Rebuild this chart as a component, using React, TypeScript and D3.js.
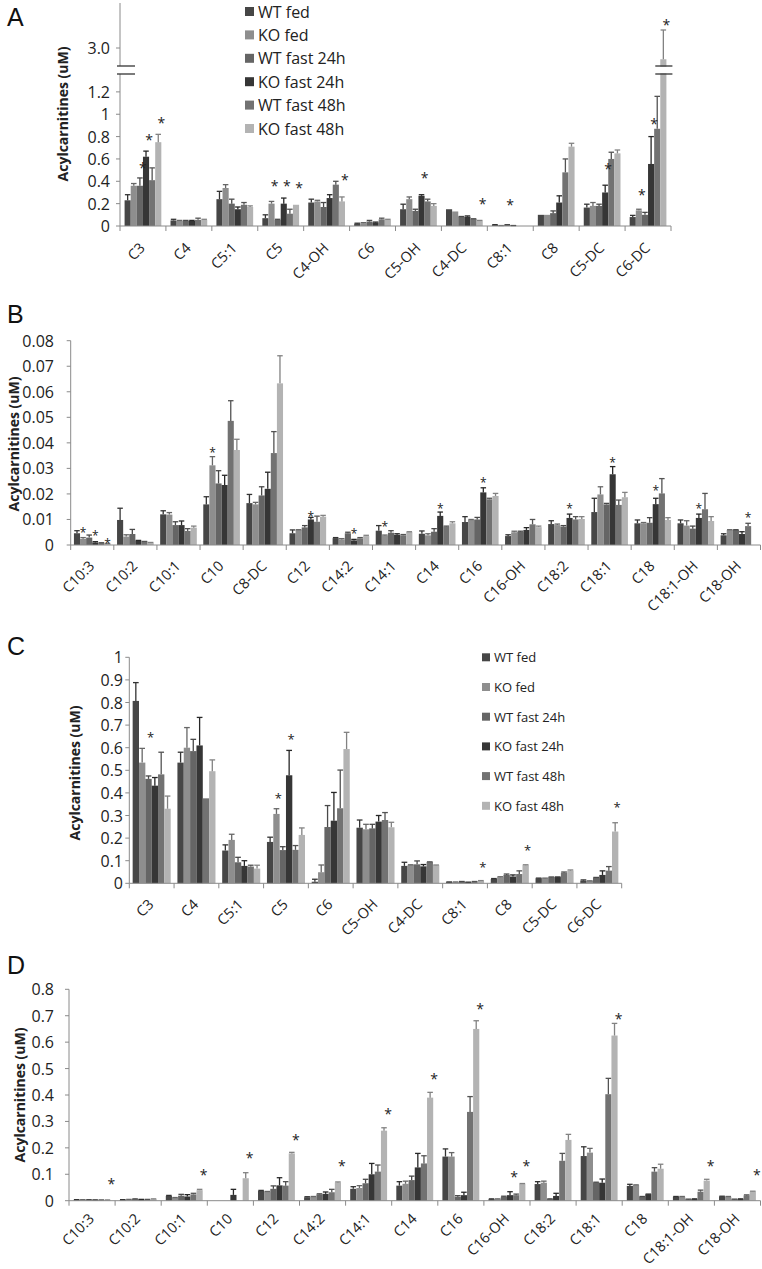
import React from "react";
import * as d3 from "d3";

const SERIES = ["WT fed", "KO fed", "WT fast 24h", "KO fast 24h", "WT fast 48h", "KO fast 48h"];
const COLORS = ["#464646", "#8e8e8e", "#656565", "#363636", "#727272", "#b3b3b3"];

// ---------------- Panel A ----------------
const aCategories = ["C3", "C4", "C5:1", "C5", "C4-OH", "C6", "C5-OH", "C4-DC", "C8:1", "C8", "C5-DC", "C6-DC"];
const aMean = [
  [0.23, 0.36, 0.36, 0.62, 0.41, 0.75],
  [0.05, 0.045, 0.045, 0.045, 0.055, 0.055],
  [0.24, 0.34, 0.2, 0.15, 0.19, 0.17],
  [0.07, 0.2, 0.054, 0.2, 0.11, 0.19],
  [0.21, 0.22, 0.17, 0.25, 0.37, 0.22],
  [0.02, 0.025, 0.04, 0.03, 0.06, 0.055],
  [0.15, 0.24, 0.135, 0.27, 0.22, 0.18],
  [0.15, 0.13, 0.083, 0.083, 0.063, 0.048],
  [0.01, 0.003, 0.01, 0.003, 0, 0],
  [0.1, 0.1, 0.115, 0.21, 0.48, 0.71],
  [0.165, 0.18, 0.18, 0.3, 0.6, 0.65],
  [0.08, 0.14, 0.1, 0.555, 0.87, 2.9],
];
const aTop = [
  [0.28, 0.38, 0.43, 0.67, 0.52, 0.82],
  [0.06, 0.05, 0.05, 0.05, 0.07, 0.06],
  [0.31, 0.37, 0.24, 0.17, 0.21, 0.18],
  [0.1, 0.22, 0.06, 0.25, 0.15, 0.19],
  [0.24, 0.23, 0.21, 0.28, 0.4, 0.26],
  [0.025, 0.03, 0.05, 0.035, 0.07, 0.06],
  [0.195, 0.26, 0.15, 0.28, 0.24, 0.2],
  [0.15, 0.13, 0.085, 0.09, 0.065, 0.05],
  [0.012, 0.004, 0.012, 0.004, 0, 0],
  [0.1, 0.1, 0.135, 0.27, 0.6, 0.74],
  [0.195, 0.21, 0.195, 0.365, 0.66, 0.68],
  [0.095, 0.15, 0.122, 0.8, 1.16, 3.16],
];
// [category, series, level]
const aStars = [
  [0, 2, 0.54], [0, 3, 0.79], [0, 5, 0.95], [3, 1, 0.38], [3, 3, 0.38], [3, 5, 0.36],
  [4, 5, 0.44], [6, 3, 0.45], [7, 5, 0.22], [8, 2, 0.21], [10, 3, 0.53],
  [11, 1, 0.3], [11, 3, 0.94], [11, 5, 3.23],
];
const aTicks = [0, 0.2, 0.4, 0.6, 0.8, 1, 1.2, 3.0];
const aTickLabels = ["0", "0.2", "0.4", "0.6", "0.8", "1", "1.2", "3.0"];

// ---------------- Panel B ----------------
const bCategories = ["C10:3", "C10:2", "C10:1", "C10", "C8-DC", "C12", "C14:2", "C14:1", "C14", "C16", "C16-OH", "C18:2", "C18:1", "C18", "C18:1-OH", "C18-OH"];
const bMean = [
  [0.0046, 0.0024, 0.0029, 0.001, 0.0008, 0.0005],
  [0.0098, 0.0033, 0.0043, 0.0017, 0.0013, 0.0009],
  [0.012, 0.0119, 0.0078, 0.0078, 0.0055, 0.0068],
  [0.0159, 0.0312, 0.0241, 0.0235, 0.0486, 0.0372],
  [0.0164, 0.0159, 0.0194, 0.022, 0.036, 0.0633],
  [0.0046, 0.0059, 0.0069, 0.01, 0.0091, 0.0111],
  [0.0027, 0.0022, 0.0046, 0.0018, 0.0026, 0.0035],
  [0.0056, 0.0037, 0.0048, 0.004, 0.0038, 0.0051],
  [0.0044, 0.0038, 0.0052, 0.0114, 0.0072, 0.0085],
  [0.009, 0.0098, 0.01, 0.0206, 0.0179, 0.0192],
  [0.0035, 0.005, 0.0051, 0.0059, 0.0081, 0.007],
  [0.0082, 0.0078, 0.0072, 0.0106, 0.01, 0.0102],
  [0.0129, 0.0198, 0.0159, 0.0277, 0.0157, 0.0187],
  [0.0085, 0.0085, 0.0087, 0.016, 0.0202, 0.0098],
  [0.0085, 0.0076, 0.0064, 0.0106, 0.014, 0.0094],
  [0.0038, 0.0059, 0.0059, 0.0043, 0.0074, 0],
];
const bTop = [
  [0.0056, 0.0029, 0.0039, 0.0013, 0.0009, 0.0006],
  [0.0144, 0.004, 0.0061, 0.0018, 0.0014, 0.001],
  [0.0134, 0.0127, 0.0091, 0.0094, 0.0064, 0.0074],
  [0.0189, 0.0346, 0.0291, 0.0273, 0.0565, 0.0414],
  [0.0198, 0.0167, 0.0228, 0.0285, 0.0444, 0.0741],
  [0.0059, 0.006, 0.0076, 0.0108, 0.0113, 0.0116],
  [0.0029, 0.0025, 0.005, 0.0022, 0.0029, 0.0038],
  [0.0076, 0.0039, 0.0056, 0.0044, 0.0041, 0.0052],
  [0.0055, 0.0044, 0.0064, 0.0129, 0.0074, 0.0091],
  [0.0111, 0.01, 0.0108, 0.0224, 0.0183, 0.0202],
  [0.004, 0.0054, 0.0054, 0.0068, 0.01, 0.0074],
  [0.0095, 0.0082, 0.0076, 0.0121, 0.0111, 0.0111],
  [0.0183, 0.0228, 0.0163, 0.0307, 0.0176, 0.0206],
  [0.0098, 0.0088, 0.0107, 0.0183, 0.026, 0.0107],
  [0.0098, 0.0095, 0.0074, 0.0121, 0.0202, 0.0111],
  [0.0044, 0.006, 0.006, 0.0052, 0.0085, 0],
];
const bStars = [
  [0, 1, 0.0059], [0, 3, 0.0046], [0, 5, 0.0013], [3, 1, 0.0372], [5, 3, 0.0121], [6, 3, 0.0055],
  [7, 1, 0.0082], [8, 3, 0.015], [9, 3, 0.0254], [11, 3, 0.015], [12, 3, 0.0333], [13, 3, 0.0222],
  [14, 3, 0.015], [15, 4, 0.0117],
];
const bTicks = [0, 0.01, 0.02, 0.03, 0.04, 0.05, 0.06, 0.07, 0.08];
const bTickLabels = ["0", "0.01", "0.02", "0.03", "0.04", "0.05", "0.06", "0.07", "0.08"];

// ---------------- Panel C ----------------
const cCategories = ["C3", "C4", "C5:1", "C5", "C6", "C5-OH", "C4-DC", "C8:1", "C8", "C5-DC", "C6-DC"];
const cMean = [
  [0.807, 0.534, 0.462, 0.432, 0.482, 0.33],
  [0.534, 0.6, 0.585, 0.61, 0.376, 0.496],
  [0.145, 0.192, 0.093, 0.077, 0.074, 0.065],
  [0.183, 0.307, 0.147, 0.478, 0.148, 0.214],
  [0.007, 0.049, 0.249, 0.277, 0.332, 0.594],
  [0.246, 0.239, 0.243, 0.273, 0.28, 0.248],
  [0.077, 0.081, 0.084, 0.075, 0.094, 0.08],
  [0.005, 0.005, 0.007, 0.004, 0.007, 0.01],
  [0.019, 0.027, 0.037, 0.03, 0.041, 0.08],
  [0.022, 0.022, 0.027, 0.027, 0.047, 0.056],
  [0.012, 0.01, 0.025, 0.037, 0.056, 0.229],
];
const cTop = [
  [0.888, 0.597, 0.475, 0.468, 0.58, 0.386],
  [0.58, 0.689, 0.637, 0.734, 0.376, 0.546],
  [0.17, 0.217, 0.115, 0.1, 0.08, 0.08],
  [0.204, 0.33, 0.162, 0.588, 0.167, 0.245],
  [0.018, 0.081, 0.344, 0.402, 0.501, 0.668],
  [0.28, 0.261, 0.261, 0.3, 0.313, 0.27],
  [0.093, 0.082, 0.099, 0.083, 0.095, 0.081],
  [0.006, 0.006, 0.008, 0.005, 0.008, 0.012],
  [0.021, 0.029, 0.041, 0.037, 0.055, 0.082],
  [0.023, 0.023, 0.028, 0.028, 0.05, 0.059],
  [0.015, 0.011, 0.026, 0.055, 0.074, 0.268],
];
const cStars = [[0, 2, 0.659], [3, 1, 0.386], [3, 3, 0.649], [7, 5, 0.081], [8, 5, 0.158], [10, 5, 0.347]];
const cTicks = [0, 0.1, 0.2, 0.3, 0.4, 0.5, 0.6, 0.7, 0.8, 0.9, 1];
const cTickLabels = ["0", "0.1", "0.2", "0.3", "0.4", "0.5", "0.6", "0.7", "0.8", "0.9", "1"];

// ---------------- Panel D ----------------
const dCategories = ["C10:3", "C10:2", "C10:1", "C10", "C12", "C14:2", "C14:1", "C14", "C16", "C16-OH", "C18:2", "C18:1", "C18", "C18:1-OH", "C18-OH"];
const dMean = [
  [0.003, 0.003, 0.003, 0.002, 0.002, 0.002],
  [0.003, 0.004, 0.006, 0.004, 0.004, 0.006],
  [0.018, 0.011, 0.019, 0.016, 0.024, 0.04],
  [0, 0, 0, 0.022, 0, 0.085],
  [0.037, 0.033, 0.045, 0.058, 0.057, 0.179],
  [0.013, 0.015, 0.024, 0.026, 0.032, 0.069],
  [0.045, 0.048, 0.066, 0.1, 0.11, 0.265],
  [0.057, 0.064, 0.078, 0.126, 0.141, 0.39],
  [0.167, 0.167, 0.015, 0.021, 0.336, 0.65],
  [0.006, 0.006, 0.015, 0.021, 0.021, 0.064],
  [0.063, 0.068, 0.006, 0.018, 0.151, 0.23],
  [0.169, 0.182, 0.069, 0.068, 0.403, 0.625],
  [0.056, 0.059, 0.015, 0.024, 0.11, 0.121],
  [0.015, 0.015, 0.005, 0.006, 0.034, 0.076],
  [0.016, 0.015, 0.005, 0.006, 0.02, 0.035],
];
const dTop = [
  [0.004, 0.004, 0.004, 0.003, 0.003, 0.003],
  [0.004, 0.005, 0.007, 0.005, 0.005, 0.007],
  [0.02, 0.012, 0.024, 0.023, 0.028, 0.043],
  [0, 0, 0, 0.043, 0, 0.106],
  [0.039, 0.035, 0.056, 0.087, 0.072, 0.183],
  [0.015, 0.016, 0.026, 0.033, 0.043, 0.071],
  [0.053, 0.057, 0.081, 0.141, 0.135, 0.276],
  [0.072, 0.074, 0.093, 0.179, 0.17, 0.41],
  [0.196, 0.182, 0.019, 0.032, 0.394, 0.681],
  [0.007, 0.007, 0.017, 0.034, 0.025, 0.065],
  [0.072, 0.074, 0.007, 0.028, 0.179, 0.251],
  [0.204, 0.198, 0.07, 0.082, 0.463, 0.671],
  [0.062, 0.06, 0.016, 0.025, 0.125, 0.138],
  [0.016, 0.016, 0.006, 0.007, 0.04, 0.081],
  [0.017, 0.016, 0.006, 0.007, 0.022, 0.036],
];
const dStars = [
  [0, 5, 0.074], [2, 5, 0.106], [3, 5, 0.173], [4, 5, 0.241], [5, 5, 0.141], [6, 5, 0.338],
  [7, 5, 0.472], [8, 5, 0.734], [9, 3, 0.101], [9, 5, 0.141], [11, 5, 0.699], [13, 5, 0.141], [14, 5, 0.106],
];
const dTicks = [0, 0.1, 0.2, 0.3, 0.4, 0.5, 0.6, 0.7, 0.8];
const dTickLabels = ["0", "0.1", "0.2", "0.3", "0.4", "0.5", "0.6", "0.7", "0.8"];

const FONT = "'Open Sans', 'DejaVu Sans', sans-serif";
const AXIS = "#8a8a8a";

type PanelCfg = {
  letter: string;
  letterX: number;
  letterY: number;
  categories: string[];
  mean: number[][];
  top: number[][];
  stars: number[][];
  ticks: number[];
  tickLabels: string[];
  x0: number;
  x1: number;
  y: d3.ScaleLinear<number, number>;
  segments: number[][];
  labelRight: number;
  titleX: number;
  titleY: number;
  frac: number;
  starDx: number;
  starSize: number;
  catDy: number;
};

function Panel({ cfg }: { cfg: PanelCfg }) {
  const { categories, mean, top, y } = cfg;
  const xb = d3.scaleBand<string>().domain(categories).range([cfg.x0, cfg.x1]);
  const step = xb.step();
  const gw = step * cfg.frac;
  const off = (step - gw) / 2;
  const xi = d3.scaleBand<number>().domain(d3.range(SERIES.length)).range([0, gw]);
  const bw = xi.bandwidth();
  const y0 = y(0);
  const barX = (ci: number, si: number) => (xb(categories[ci]) as number) + off + (xi(si) as number);

  const bars: JSX.Element[] = [];
  const errs: JSX.Element[] = [];
  mean.forEach((row, ci) => {
    row.forEach((v, si) => {
      if (v <= 0) return;
      const x = barX(ci, si);
      bars.push(
        <rect key={`b${ci}-${si}`} x={x} y={y(v)} width={bw} height={y0 - y(v)} fill={COLORS[si]} />
      );
      const t = top[ci][si];
      if (t > v) {
        const cx = x + bw / 2;
        const ec = d3.color(COLORS[si])!.darker(0.9).formatHex();
        errs.push(
          <g key={`e${ci}-${si}`} stroke={ec} strokeWidth={1.3}>
            <line x1={cx} x2={cx} y1={y(v)} y2={y(t)} />
            <line x1={cx - bw * 0.45} x2={cx + bw * 0.45} y1={y(t)} y2={y(t)} />
          </g>
        );
      }
    });
  });

  const bounds = d3.range(categories.length + 1).map((i) => cfg.x0 + i * step);

  return (
    <g>
      <text x={cfg.letterX} y={cfg.letterY} fontFamily="'Liberation Sans', Arial, sans-serif" fontSize={25} fill="#111">
        {cfg.letter}
      </text>
      <text
        transform={`translate(${cfg.titleX},${cfg.titleY}) rotate(-90)`}
        textAnchor="middle"
        dominantBaseline="central"
        fontFamily={FONT}
        fontWeight="bold"
        fontSize={14}
        fill="#222"
      >
        Acylcarnitines (uM)
      </text>
      {cfg.segments.map((s, i) => (
        <line key={`ya${i}`} x1={cfg.x0} x2={cfg.x0} y1={y(s[0])} y2={y(s[1])} stroke={AXIS} strokeWidth={1} />
      ))}
      {cfg.ticks.map((t, i) => (
        <g key={`yt${i}`}>
          <line x1={cfg.x0 - 4} x2={cfg.x0} y1={y(t)} y2={y(t)} stroke={AXIS} />
          <text
            x={cfg.labelRight}
            y={y(t)}
            textAnchor="end"
            dominantBaseline="central"
            fontFamily={FONT}
            fontSize={16}
            fill="#222"
          >
            {cfg.tickLabels[i]}
          </text>
        </g>
      ))}
      {bars}
      {errs}
      <line x1={cfg.x0} x2={cfg.x1} y1={y0} y2={y0} stroke={AXIS} strokeWidth={1} />
      {bounds.map((bx, i) => (
        <line key={`xt${i}`} x1={bx} x2={bx} y1={y0} y2={y0 + 5} stroke={AXIS} />
      ))}
      {categories.map((c) => {
        const cx = (xb(c) as number) + step / 2;
        return (
          <text
            key={`xl${c}`}
            transform={`translate(${cx + 3},${y0 + cfg.catDy}) rotate(-45)`}
            textAnchor="end"
            fontFamily={FONT}
            fontSize={14.5}
            fill="#222"
          >
            {c}
          </text>
        );
      })}
      {cfg.stars.map(([ci, si, lv], i) => (
        <text
          key={`s${i}`}
          x={barX(ci, si) + bw / 2 + cfg.starDx}
          y={y(lv) + cfg.starSize * 0.55}
          textAnchor="middle"
          fontFamily={FONT}
          fontSize={cfg.starSize}
          fill="#222"
        >
          *
        </text>
      ))}
    </g>
  );
}

function Legend({ x, y, step, size, fontSize }: { x: number; y: number; step: number; size: number; fontSize: number }) {
  return (
    <g>
      {SERIES.map((s, i) => (
        <g key={s}>
          <rect x={x} y={y + i * step - size / 2} width={size} height={size} fill={COLORS[i]} />
          <text
            x={x + size + 4}
            y={y + i * step}
            dominantBaseline="central"
            fontFamily={FONT}
            fontSize={fontSize}
            fill="#222"
          >
            {s}
          </text>
        </g>
      ))}
    </g>
  );
}

export default function App() {
  const aY = d3.scaleLinear().domain([0, 1.36, 2.84, 3.4]).range([226, 74, 66, 3]);
  const bY = d3.scaleLinear().domain([0, 0.08]).range([545, 340.7]);
  const cY = d3.scaleLinear().domain([0, 1]).range([883.3, 657.3]);
  const dY = d3.scaleLinear().domain([0, 0.8]).range([1200.7, 989.3]);

  const panels: PanelCfg[] = [
    {
      letter: "A", letterX: 7, letterY: 26, categories: aCategories, mean: aMean, top: aTop, stars: aStars,
      ticks: aTicks, tickLabels: aTickLabels, x0: 120, x1: 671, y: aY, segments: [[0, 1.36], [2.84, 3.4]],
      labelRight: 110, titleX: 62.5, titleY: 114, frac: 0.8, starDx: 3, starSize: 14, catDy: 23,
    },
    {
      letter: "B", letterX: 7, letterY: 323, categories: bCategories, mean: bMean, top: bTop, stars: bStars,
      ticks: bTicks, tickLabels: bTickLabels, x0: 70.7, x1: 760.5, y: bY, segments: [[0, 0.08]],
      labelRight: 54, titleX: 13, titleY: 444, frac: 0.85, starDx: 0, starSize: 12, catDy: 22,
    },
    {
      letter: "C", letterX: 7, letterY: 655, categories: cCategories, mean: cMean, top: cTop, stars: cStars,
      ticks: cTicks, tickLabels: cTickLabels, x0: 129.3, x1: 621.7, y: cY, segments: [[0, 1]],
      labelRight: 123, titleX: 74, titleY: 773, frac: 0.85, starDx: 2, starSize: 13, catDy: 22,
    },
    {
      letter: "D", letterX: 7, letterY: 974, categories: dCategories, mean: dMean, top: dTop, stars: dStars,
      ticks: dTicks, tickLabels: dTickLabels, x0: 69, x1: 760.5, y: dY, segments: [[0, 0.8]],
      labelRight: 54, titleX: 19, titleY: 1095, frac: 0.8, starDx: 4, starSize: 14, catDy: 19,
    },
  ];

  const aXb = d3.scaleBand<string>().domain(aCategories).range([120, 671]);
  const aStep = aXb.step();
  const brkBarX = (aXb("C6-DC") as number) + aStep * 0.1 + (aStep * 0.8 * 5) / 6;
  const brkBarW = (aStep * 0.8) / 6;
  const yHi = aY(2.84);
  const yLo = aY(1.36);

  return (
    <svg
      width={762}
      height={1269}
      style={{ position: "absolute", left: 0, top: 0, background: "#fff" }}
      xmlns="http://www.w3.org/2000/svg"
    >
      <rect x={0} y={0} width={762} height={1269} fill="#fff" />
      {panels.map((p) => (
        <Panel key={p.letter} cfg={p} />
      ))}
      <g stroke="#333" strokeWidth={1.3}>
        <rect x={118} y={yHi + 0.7} width={4} height={yLo - yHi - 1.4} fill="#fff" stroke="none" />
        <line x1={117} x2={135} y1={yHi} y2={yHi} />
        <line x1={117} x2={135} y1={yLo} y2={yLo} />
        <rect x={brkBarX - 4} y={yHi + 0.7} width={brkBarW + 8} height={yLo - yHi - 1.4} fill="#fff" stroke="none" />
        <line x1={brkBarX - 5} x2={brkBarX + brkBarW + 6} y1={yHi} y2={yHi} />
        <line x1={brkBarX - 5} x2={brkBarX + brkBarW + 6} y1={yLo} y2={yLo} />
      </g>
      <Legend x={245} y={11.5} step={23.4} size={9} fontSize={16} />
      <Legend x={482} y={657.3} step={29.7} size={8} fontSize={13} />
    </svg>
  );
}
